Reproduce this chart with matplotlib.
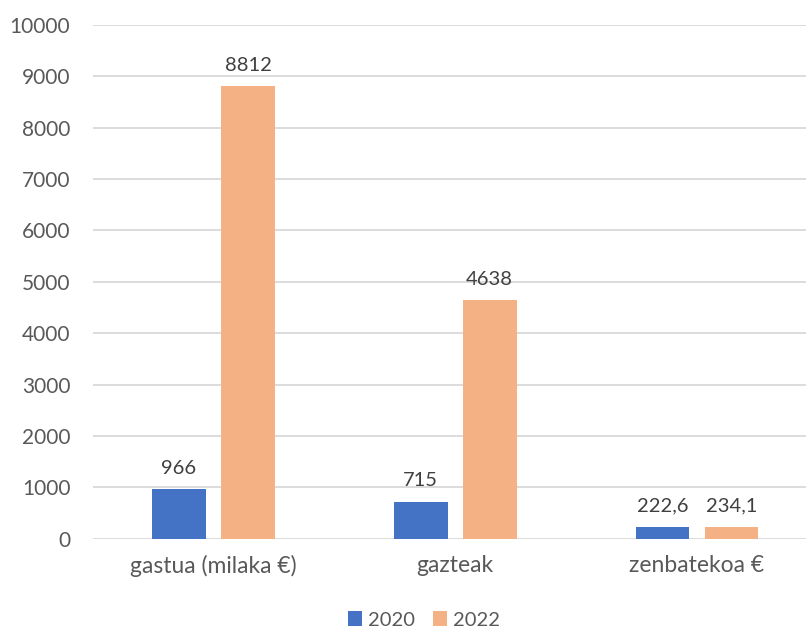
import matplotlib.pyplot as plt
import numpy as np

categories = ['gastua (milaka €)', 'gazteak', 'zenbatekoa €']
series_names = ['2020', '2022']
values_2020 = [966, 715, 222.6]
values_2022 = [8812, 4638, 234.1]
labels_2020 = ['966', '715', '222,6']
labels_2022 = ['8812', '4638', '234,1']

plt.rcParams['font.family'] = ['Lato', 'DejaVu Sans']

fig = plt.figure(figsize=(8.06, 6.3), dpi=100)
# plot area: left edge at the start of the gridlines, right side runs off the picture
ax = fig.add_axes([92.6 / 806, 1 - 538.7 / 630, 1 - 92.6 / 806, (538.7 - 25) / 630])

x = np.arange(len(categories))
w = 0.223
off = 0.1427
b1 = ax.bar(x - off, values_2020, w, color='#4472C4', label=series_names[0], zorder=3)
b2 = ax.bar(x + off, values_2022, w, color='#F4B183', label=series_names[1], zorder=3)

for bars, labs in ((b1, labels_2020), (b2, labels_2022)):
    for rect, lab in zip(bars, labs):
        ax.annotate(lab, (rect.get_x() + rect.get_width() / 2, rect.get_height()),
                    xytext=(0, 9), textcoords='offset points', ha='center', va='bottom',
                    fontsize=14.5, color='#404040')

ax.set_ylim(0, 10000)
ax.set_yticks(np.arange(0, 10001, 1000))
ax.set_xlim(-0.5, -0.5 + (806 - 92.6) / 241.75)
ax.set_xticks(x)
ax.set_xticklabels(categories, fontsize=16.5)
ax.yaxis.grid(True, color='#D9D9D9', linewidth=1.3, zorder=0)
ax.set_axisbelow(True)
for s in ax.spines.values():
    s.set_visible(False)
ax.tick_params(axis='both', length=0, labelcolor='#595959')
ax.tick_params(axis='y', pad=16, labelsize=15)
ax.tick_params(axis='x', pad=12)

fig.legend(loc='center', bbox_to_anchor=(424 / 806, 1 - 620 / 630), ncol=2, frameon=False,
           fontsize=14.5, labelcolor='#595959', handlelength=0.7, handleheight=0.7,
           handletextpad=0.3, columnspacing=0.9)

fig.savefig('out.png', dpi=100)
